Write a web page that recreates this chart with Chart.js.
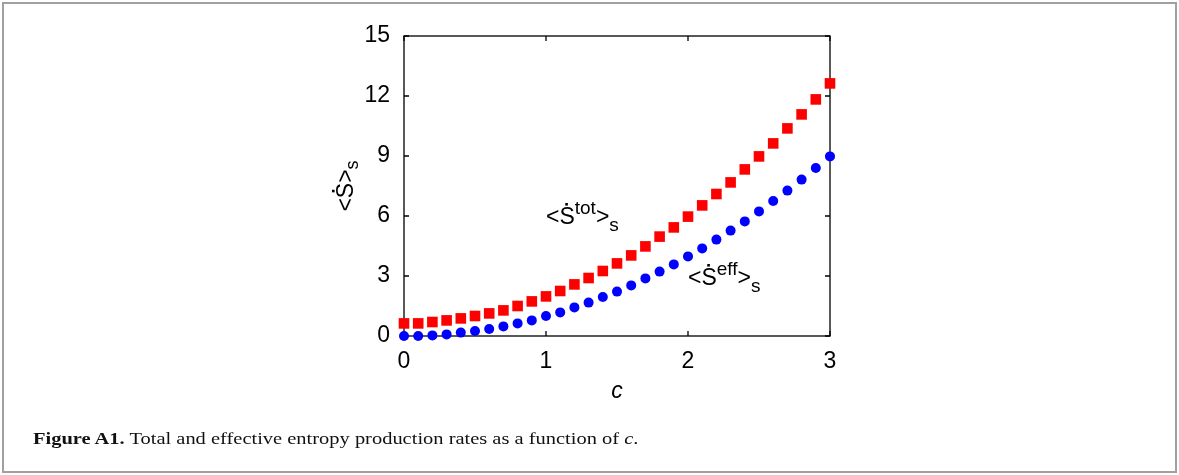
<!DOCTYPE html>
<html lang="en">
<head>
<meta charset="UTF-8">
<title>Figure A1</title>
<script src="https://cdn.jsdelivr.net/npm/chart.js@4.4.1/dist/chart.umd.min.js"></script>
<style>
  body { margin: 0; background: #fff; }
  .frame { position: absolute; left: 2px; top: 2px; width: 1171px; height: 467px; border: 2px solid #a0a0a0; }
  #wrap { position: absolute; left: 0; top: 0; width: 1179px; height: 475px; }
  .caption { position: absolute; left: 33px; top: 429px; font-family: "Liberation Serif", serif; font-size: 16.5px; color: #111;
             white-space: nowrap; transform: scaleX(1.24); transform-origin: left top; }
</style>
</head>
<body>
<div class="frame"></div>
<div id="wrap"><canvas id="chart" width="1179" height="475"></canvas></div>
<div class="caption"><b>Figure A1.</b> Total and effective entropy production rates as a function of <i>c</i>.</div>
<script>
// c values (x axis)
const cValues = [0, 0.1, 0.2, 0.3, 0.4, 0.5, 0.6, 0.7, 0.8, 0.9, 1.0,
                 1.1, 1.2, 1.3, 1.4, 1.5, 1.6, 1.7, 1.8, 1.9, 2.0,
                 2.1, 2.2, 2.3, 2.4, 2.5, 2.6, 2.7, 2.8, 2.9, 3.0];
// <S_tot>_s  (red squares)
const totValues = [0.63, 0.63, 0.70, 0.78, 0.88, 1.00, 1.13, 1.28, 1.50, 1.73, 1.98,
                   2.25, 2.58, 2.90, 3.25, 3.63, 4.03, 4.48, 4.97, 5.43, 5.97,
                   6.53, 7.10, 7.68, 8.33, 8.98, 9.63, 10.38, 11.08, 11.83, 12.63];
// <S_eff>_s  (blue circles)
const effValues = [0.00, 0.00, 0.03, 0.08, 0.17, 0.25, 0.35, 0.48, 0.63, 0.78, 1.00,
                   1.18, 1.43, 1.67, 1.95, 2.22, 2.53, 2.88, 3.22, 3.58, 3.98,
                   4.38, 4.82, 5.27, 5.73, 6.23, 6.75, 7.27, 7.82, 8.40, 8.98];
const xTicks = [0, 1, 2, 3];
const yTicks = [0, 3, 6, 9, 12, 15];

const FONT = '"Liberation Sans", Arial, sans-serif';

// draws  <S^sup>_sub  with a dot over the S, starting at (x, y) baseline
function drawRate(ctx, x, y, sup, sub) {
    ctx.fillStyle = '#000';
    ctx.textBaseline = 'alphabetic';
    ctx.textAlign = 'left';
    ctx.font = '23px ' + FONT;
    ctx.fillText('<', x, y);
    x += ctx.measureText('<').width;
    const sw = ctx.measureText('S').width;
    ctx.fillText('S', x, y);
    ctx.fillRect(x + sw * 0.38, y - 21, 2.6, 2.6);
    x += sw;
    if (sup) {
        ctx.font = '19px ' + FONT;
        ctx.fillText(sup, x, y - 10);
        x += ctx.measureText(sup).width;
    }
    ctx.font = '23px ' + FONT;
    ctx.fillText('>', x, y);
    x += ctx.measureText('>').width;
    ctx.font = '19px ' + FONT;
    ctx.fillText(sub, x, y + 7);
}

const framePlugin = {
    id: 'frame',
    beforeDatasetsDraw(chart) {
        const {ctx, chartArea: {left, top, right, bottom}, scales: {x, y}} = chart;
        ctx.save();
        ctx.strokeStyle = '#000';
        ctx.lineWidth = 1.3;
        ctx.strokeRect(left, top, right - left, bottom - top);
        ctx.beginPath();
        xTicks.forEach(v => {
            const px = x.getPixelForValue(v);
            ctx.moveTo(px, bottom); ctx.lineTo(px, bottom - 5);
            ctx.moveTo(px, top); ctx.lineTo(px, top + 5);
        });
        yTicks.forEach(v => {
            const py = y.getPixelForValue(v);
            ctx.moveTo(left, py); ctx.lineTo(left + 5, py);
            ctx.moveTo(right, py); ctx.lineTo(right - 5, py);
        });
        ctx.stroke();
        ctx.restore();
    },
    afterDatasetsDraw(chart) {
        const {ctx, chartArea: {top, bottom}, scales: {x, y}} = chart;
        ctx.save();
        drawRate(ctx, x.getPixelForValue(1.0), y.getPixelForValue(5.6), 'tot', 's');
        drawRate(ctx, x.getPixelForValue(2.0), y.getPixelForValue(2.55), 'eff', 's');

        // y axis title, rotated
        ctx.translate(353, (top + bottom) / 2);
        ctx.rotate(-Math.PI / 2);
        ctx.font = '23px ' + FONT;
        const w = ctx.measureText('<S>').width;
        ctx.font = '18px ' + FONT;
        const ws = ctx.measureText('s').width;
        const start = -(w + ws) / 2;
        ctx.fillStyle = '#000';
        ctx.font = '23px ' + FONT;
        ctx.fillText('<', start, 0);
        const lw = ctx.measureText('<').width;
        const sw = ctx.measureText('S').width;
        ctx.fillText('S', start + lw, 0);
        ctx.fillRect(start + lw + sw * 0.38, -21, 2.6, 2.6);
        ctx.fillText('>', start + lw + sw, 0);
        ctx.font = '18px ' + FONT;
        ctx.fillText('s', start + w, 5);
        ctx.restore();
    }
};

const ctx = document.getElementById('chart').getContext('2d');
new Chart(ctx, {
    type: 'scatter',
    data: {
        datasets: [{
            label: 'tot',
            data: cValues.map((c, i) => ({x: c, y: totValues[i]})),
            pointStyle: 'rect',
            pointRadius: 7.5,
            pointBorderWidth: 0,
            backgroundColor: '#ff0000',
            borderColor: '#ff0000',
            clip: false
        }, {
            label: 'eff',
            data: cValues.map((c, i) => ({x: c, y: effValues[i]})),
            pointStyle: 'circle',
            pointRadius: 5,
            pointBorderWidth: 0,
            backgroundColor: '#0000ff',
            borderColor: '#0000ff',
            clip: false
        }]
    },
    options: {
        responsive: false,
        animation: false,
        devicePixelRatio: 1,
        layout: {padding: {left: 0, top: 36, right: 349, bottom: 69}},
        plugins: {legend: {display: false}, tooltip: {enabled: false}},
        scales: {
            x: {
                type: 'linear', min: 0, max: 3,
                afterFit: s => { s.height = 70; },
                afterBuildTicks: s => { s.ticks = xTicks.map(v => ({value: v})); },
                grid: {display: false, drawTicks: false},
                border: {display: false},
                ticks: {padding: 12, color: '#000', font: {family: FONT, size: 23}},
                title: {display: true, text: 'c', color: '#000',
                        font: {family: FONT, size: 23, style: 'italic'}, padding: {top: 0, bottom: 1}}
            },
            y: {
                type: 'linear', min: 0, max: 15,
                afterFit: s => { s.width = 404; },
                afterBuildTicks: s => { s.ticks = yTicks.map(v => ({value: v})); },
                grid: {display: false, drawTicks: false},
                border: {display: false},
                ticks: {padding: 14, color: '#000', font: {family: FONT, size: 23}}
            }
        }
    },
    plugins: [framePlugin]
});
</script>
</body>
</html>
